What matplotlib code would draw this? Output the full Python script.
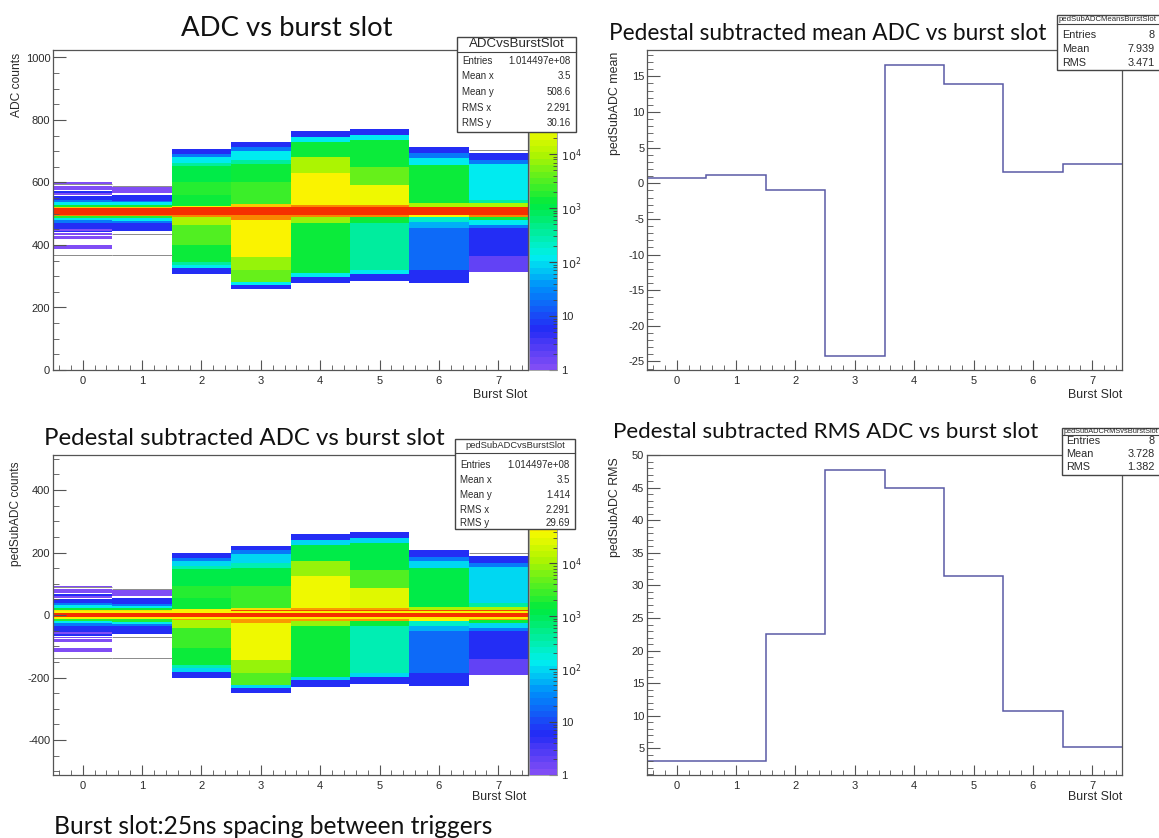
import numpy as np
import matplotlib
matplotlib.use("Agg")
import matplotlib.pyplot as plt
from matplotlib.colors import ListedColormap, LogNorm, LinearSegmentedColormap
from matplotlib.ticker import MultipleLocator, FixedLocator, NullFormatter, LogLocator
from matplotlib.patches import Rectangle
from matplotlib.lines import Line2D

plt.rcParams["axes.unicode_minus"] = False
plt.rcParams["font.family"] = ["Liberation Sans", "DejaVu Sans"]

W, H, DPI = 1159, 838, 100

# ---------------- data ----------------
burst_slots = [0, 1, 2, 3, 4, 5, 6, 7]
ped_sub_mean = [0.78, 1.16, -0.94, -24.3, 16.6, 13.9, 1.63, 2.66]
ped_sub_rms = [3.05, 3.05, 22.6, 47.8, 44.9, 31.4, 10.7, 5.2]
pedestal = 506

# ADC bands per burst slot: (adc_low, adc_high, log10(counts))
slot0_bands = [(595, 600, 0.1), (576, 588, 0.1), (566, 574, 0.75), (560, 566, 0.1),
               (544, 558, 0.75), (537, 544, 1.4), (529, 537, 2.1), (521, 529, 3.2),
               (517, 521, 4.8), (496, 517, 5.8), (492, 496, 5.1), (486, 492, 3.3),
               (479, 486, 2.1), (471, 479, 1.4), (452, 471, 0.75), (445, 452, 0.1),
               (440, 445, 0.75), (432, 437, 0.1), (420, 428, 0.1), (388, 400, 0.1)]
slot1_bands = [(566, 585, 0.1), (540, 560, 0.75), (536, 540, 1.4), (528, 536, 2.1),
               (521, 528, 3.2), (517, 521, 4.8), (496, 517, 5.8), (492, 496, 5.1),
               (485, 492, 3.3), (478, 485, 2.1), (470, 478, 1.4), (446, 470, 0.75)]
slot2_bands = [(690, 706, 0.75), (680, 690, 1.4), (663, 680, 2.05), (652, 663, 2.5),
               (600, 652, 3.05), (560, 600, 3.3), (525, 560, 3.15), (520, 525, 4.6),
               (496, 520, 5.8), (490, 496, 5.1), (464, 490, 4.0), (400, 464, 3.45),
               (345, 400, 3.15), (336, 345, 2.5), (325, 336, 2.05), (306, 325, 0.75)]
slot3_bands = [(713, 728, 0.75), (700, 713, 1.4), (672, 700, 2.05), (658, 672, 2.5),
               (600, 658, 3.1), (530, 600, 3.4), (523, 530, 4.8), (496, 523, 5.8),
               (480, 496, 5.2), (363, 480, 4.55), (320, 363, 3.9), (283, 320, 3.6),
               (272, 283, 2.05), (258, 272, 0.75)]
slot4_bands = [(747, 766, 0.75), (731, 747, 2.05), (680, 731, 3.1), (630, 680, 3.95),
               (528, 630, 4.55), (523, 528, 5.2), (496, 523, 5.8), (488, 496, 5.1),
               (470, 488, 3.9), (309, 470, 3.15), (299, 309, 2.05), (277, 299, 0.75)]
slot5_bands = [(752, 771, 0.75), (736, 752, 2.05), (651, 736, 3.1), (592, 651, 3.6),
               (528, 592, 4.45), (523, 528, 5.2), (496, 523, 5.8), (488, 496, 5.1),
               (470, 488, 3.2), (320, 470, 2.5), (307, 320, 2.05), (286, 307, 0.75)]
slot6_bands = [(693, 715, 0.75), (678, 693, 1.4), (656, 678, 2.05), (533, 656, 3.1),
               (523, 533, 4.0), (496, 523, 5.8), (488, 496, 4.6), (472, 488, 2.3),
               (455, 472, 1.7), (320, 455, 1.3), (279, 320, 0.75)]
slot7_bands = [(672, 695, 0.75), (660, 672, 1.4), (545, 660, 2.05), (533, 545, 2.6),
               (523, 533, 4.0), (496, 523, 5.8), (490, 496, 5.1), (481, 490, 3.2),
               (465, 481, 2.05), (455, 465, 1.4), (365, 455, 0.75), (315, 365, 0.35)]
adc_bands = [slot0_bands, slot1_bands, slot2_bands, slot3_bands,
             slot4_bands, slot5_bands, slot6_bands, slot7_bands]

# narrower core of the pedestal-subtracted distribution (same for every slot)
ped_core_bands = [(-13, -7, 4.6), (-7, 7, 5.85), (7, 13, 4.6)]

# almost-empty bins that show as thin grey strokes: (slot, adc)
thin_slots = [0, 0, 1, 1, 1, 7]
thin_adc = [595, 368, 589, 435, 368, 703]

colz_max_top = 10 ** 5.93
colz_max_bottom = 10 ** 6.05
cbar_ticks = [1, 10, 100, 1e3, 1e4, 1e5]
cbar_labels = ["1", "10", r"$10^{2}$", r"$10^{3}$", r"$10^{4}$", ""]

stat_adc_labels = ["Entries", "Mean x", "Mean y", "RMS x", "RMS y"]
stat_adc_values = ["1.014497e+08", "3.5", "508.6", "2.291", "30.16"]
stat_ped_values = ["1.014497e+08", "3.5", "1.414", "2.291", "29.69"]
stat_1d_labels = ["Entries", "Mean", "RMS"]
stat_mean_values = ["8", "7.939", "3.471"]
stat_rms_values = ["8", "3.728", "1.382"]

# ---------------- figure ----------------
fig = plt.figure(figsize=(W / DPI, H / DPI), dpi=DPI)
fig.patch.set_facecolor("white")
renderer = fig.canvas.get_renderer()

TXT = "#2a2a2a"
FRAME = "#555555"
HISTC = "#5a5aa6"


def fx(x):
    return x / W


def fy(y):
    return 1 - y / H


def px_axes(x0, y0, x1, y1):
    return fig.add_axes([fx(x0), fy(y1), (x1 - x0) / W, (y1 - y0) / H])


def fit_text(x, y, s, width, ha="left", va="center", family="Lato",
             rotation=0, color="#111111", zorder=3):
    t = fig.text(fx(x), fy(y), s, fontsize=10, family=family, ha=ha, va=va,
                 rotation=rotation, color=color, zorder=zorder)
    bb = t.get_window_extent(renderer=renderer)
    cur = bb.width if rotation == 0 else bb.height
    t.set_fontsize(10 * width / cur)
    return t


# ROOT-like "pretty" violet -> red palette, 50 discrete levels
_pal = LinearSegmentedColormap.from_list("rootpretty", [
    (0.00, (0.50, 0.30, 0.96)),
    (0.12, (0.14, 0.17, 0.96)),
    (0.25, (0.00, 0.55, 0.98)),
    (0.35, (0.00, 0.94, 0.94)),
    (0.52, (0.00, 0.92, 0.24)),
    (0.68, (0.70, 0.96, 0.00)),
    (0.77, (0.98, 0.98, 0.00)),
    (0.87, (0.98, 0.55, 0.00)),
    (1.00, (0.96, 0.12, 0.00)),
])
cmap = ListedColormap(_pal(np.linspace(0, 1, 50)))


def style_axes(ax, ylim, ymaj, ymin):
    ax.set_xlim(-0.5, 7.5)
    ax.set_ylim(*ylim)
    ax.xaxis.set_major_locator(MultipleLocator(1))
    ax.xaxis.set_minor_locator(MultipleLocator(0.2))
    ax.yaxis.set_major_locator(MultipleLocator(ymaj))
    ax.yaxis.set_minor_locator(MultipleLocator(ymin))
    ax.tick_params(which="both", direction="in", top=False, right=False,
                   labelsize=8, colors=FRAME, labelcolor=TXT)
    ax.tick_params(axis="x", which="major", length=7, pad=4)
    ax.tick_params(axis="x", which="minor", length=3.5)
    ax.tick_params(axis="y", which="major", length=9, pad=2)
    ax.tick_params(axis="y", which="minor", length=4.5)
    for s in ax.spines.values():
        s.set_color(FRAME)
        s.set_linewidth(0.9)


def build_grid(y_edges, offset, core):
    centers = 0.5 * (y_edges[:-1] + y_edges[1:])
    C = np.full((len(centers), len(burst_slots)), np.nan)
    for j, bands in enumerate(adc_bands):
        for lo, hi, lv in list(bands) + list(core):
            m = (centers >= lo - offset) & (centers < hi - offset)
            C[m, j] = 10 ** lv
    return np.ma.masked_invalid(C)


def colz_panel(frame, cbar_box, ylim, offset, core, zmax):
    ax = px_axes(*frame)
    x_edges = np.arange(-0.5, 8.0, 1.0)
    y_edges = np.arange(ylim[0], ylim[1] + 1, 1.0)
    C = build_grid(y_edges, offset, core)
    mesh = ax.pcolormesh(x_edges, y_edges, C, cmap=cmap, norm=LogNorm(1, zmax),
                         shading="flat", antialiased=False, linewidth=0, rasterized=True)
    for s, a in zip(thin_slots, thin_adc):
        ax.hlines(a - offset, s - 0.5, s + 0.5, color="#8a8a8a", lw=0.7)
    style_axes(ax, ylim, 200, 50)
    cax = px_axes(*cbar_box)
    cb = fig.colorbar(mesh, cax=cax)
    cb.outline.set_linewidth(0.6)
    cb.outline.set_edgecolor("#999999")
    cax.yaxis.set_major_locator(FixedLocator(cbar_ticks))
    cax.set_yticklabels(cbar_labels)
    cax.yaxis.set_minor_locator(LogLocator(base=10, subs=np.arange(2, 10)))
    cax.yaxis.set_minor_formatter(NullFormatter())
    cax.tick_params(which="both", direction="in", right=True, left=False,
                    labelsize=8, colors="#444444", labelcolor=TXT, pad=3)
    cax.tick_params(which="major", length=6)
    cax.tick_params(which="minor", length=3)
    return ax


def step_panel(frame, ylim, values):
    ax = px_axes(*frame)
    ax.stairs(values, np.arange(-0.5, 8.0, 1.0), baseline=None, color=HISTC, lw=1.1)
    style_axes(ax, ylim, 5, 1)
    return ax


def stat_box(x0, y0, x1, y1, title, title_w, title_y, sep_y, labels, values,
             row_ys, lab_x, val_x, fs):
    fig.add_artist(Rectangle((fx(x0), fy(y1)), (x1 - x0) / W, (y1 - y0) / H,
                             transform=fig.transFigure, facecolor="white",
                             edgecolor="#444444", lw=1.0, zorder=10))
    fig.add_artist(Line2D([fx(x0), fx(x1)], [fy(sep_y), fy(sep_y)],
                          transform=fig.transFigure, color="#444444", lw=0.8, zorder=11))
    fit_text((x0 + min(x1, W)) / 2, title_y, title, title_w, ha="center",
             family="Liberation Sans", color=TXT, zorder=12)
    for lab, val, ry in zip(labels, values, row_ys):
        fig.text(fx(lab_x), fy(ry), lab, fontsize=fs, ha="left", va="center",
                 color=TXT, zorder=12)
        fig.text(fx(val_x), fy(ry), val, fontsize=fs, ha="right", va="center",
                 color=TXT, zorder=12)


# ---- top-left: ADC vs burst slot ----
colz_panel((53, 50, 528, 370), (529, 50, 557, 370), (0, 1024), 0, [], colz_max_top)
# ---- bottom-left: pedestal subtracted ----
colz_panel((53, 455, 528, 775), (529, 455, 557, 775), (-512, 512), pedestal,
           [(lo + pedestal, hi + pedestal, lv) for lo, hi, lv in ped_core_bands],
           colz_max_bottom)
# ---- top-right ----
step_panel((647, 50, 1122, 370), (-26.2, 18.7), ped_sub_mean)
# ---- bottom-right ----
step_panel((647, 455, 1122, 775), (0.9, 50.03), ped_sub_rms)

# titles
fit_text(181, 28, "ADC vs burst slot", 211)
fit_text(609, 33, "Pedestal subtracted mean ADC vs burst slot", 436)
fit_text(44, 438, "Pedestal subtracted ADC vs burst slot", 400)
fit_text(613, 432, "Pedestal subtracted RMS ADC vs burst slot", 426)
fit_text(54, 826, "Burst slot:25ns spacing between triggers", 440)

# axis titles
fit_text(17, 53, "ADC counts", 64, ha="center", va="top", family="Liberation Sans",
         rotation=90, color=TXT)
fit_text(16, 461, "pedSubADC counts", 104, ha="center", va="top", family="Liberation Sans",
         rotation=90, color=TXT)
fit_text(615, 52, "pedSubADC mean", 103, ha="center", va="top", family="Liberation Sans",
         rotation=90, color=TXT)
fit_text(615, 457, "pedSubADC RMS", 100, ha="center", va="top", family="Liberation Sans",
         rotation=90, color=TXT)
for (xr, yc) in [(527, 395), (1122, 395), (526, 797), (1122, 797)]:
    fit_text(xr, yc, "Burst Slot", 54, ha="right", family="Liberation Sans", color=TXT)

# stat boxes
stat_box(457, 37, 576, 132, "ADCvsBurstSlot", 96, 44, 52,
         stat_adc_labels, stat_adc_values, [61, 76, 92, 108, 123], 462, 571, 7)
stat_box(455, 439, 575, 529, "pedSubADCvsBurstSlot", 100, 446, 453,
         stat_adc_labels, stat_ped_values, [465, 480, 495, 510, 523], 460, 570, 7)
stat_box(1057, 15, 1170, 70, "pedSubADCMeansBurstSlot", 98, 19.5, 24,
         stat_1d_labels, stat_mean_values, [35, 49, 63], 1062, 1155, 7.8)
stat_box(1062, 428, 1170, 475, "pedSubADCRMSvsBurstSlot", 94, 431.5, 435,
         stat_1d_labels, stat_rms_values, [441, 454, 467], 1066, 1155, 7.8)

fig.savefig("out.png", dpi=DPI)
